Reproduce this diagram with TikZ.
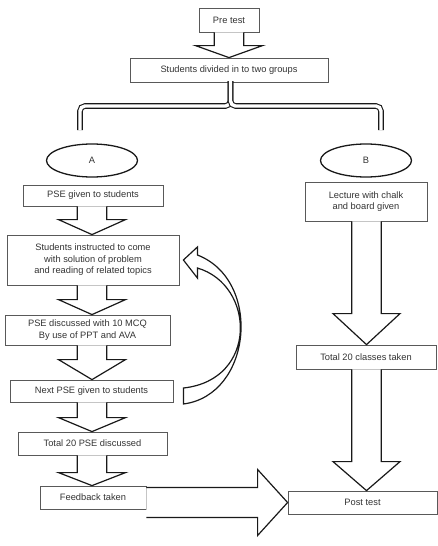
\documentclass[tikz,border=0pt]{standalone}
\usepackage{fontspec}
\setmainfont{Liberation Sans}
\usetikzlibrary{calc,shapes.geometric}

% block arrow down: column, from, to, head length
\newcommand{\blockdown}[4]{%
  \draw[blockarrow] ($(#2.south -| #1)+(-14.75,0)$)
    -- ($(#3.north -| #1)+(-14.75,#4)$) -- ($(#3.north -| #1)+(-33.5,#4)$)
    -- (#3.north -| #1)
    -- ($(#3.north -| #1)+(33.5,#4)$) -- ($(#3.north -| #1)+(14.75,#4)$)
    -- ($(#2.south -| #1)+(14.75,0)$);}

\begin{document}
\begin{tikzpicture}[
  x=1pt, y=1pt,
  font=\fontsize{9.3}{11.5}\selectfont,
  box/.style={draw=black!65, line width=0.8pt, text=black!80, align=center,
    inner sep=0pt},
  oval/.style={draw=black!90, ellipse, line width=1.3pt, text=black!80,
    minimum width=91, minimum height=33, inner sep=0pt},
  blockarrow/.style={draw=black!90, fill=white, line width=1.2pt,
    line join=miter},
  brace/.style={double, double distance=3.4pt, line width=1.1pt,
    draw=black!90, rounded corners=5pt}
]
\useasboundingbox (0,0) rectangle (438,-546);

\coordinate (colM) at (229,0);
\coordinate (colA) at (92,0);
\coordinate (colB) at (366.5,0);

% top
\node[box, minimum width=60, minimum height=24] (pre) at (229,-20) {Pre test};
\node[box, minimum width=198, minimum height=24] (split) at (229,-70)
  {Students divided in to two groups};
\blockdown{colM}{pre}{split}{12}

% the two groups
\node[oval] (A) at (92,-160.5) {A};
\node[oval] (B) at (366,-160.5) {B};

\coordinate (stem) at (230.5,-81);
\coordinate (mid) at (230.5,-106);
\coordinate (legA) at (80,-130);
\coordinate (legB) at (381,-130);
\draw[brace] (stem) -- (mid) -- (mid -| legA) -- (legA);
\draw[brace] (stem) -- (mid) -- (mid -| legB) -- (legB);

% group A
\node[box, minimum width=140, minimum height=21] (pse1) at (93,-195.5)
  {PSE given to students};
\node[box, minimum width=172, minimum height=50] (instr) at (93,-260)
  {Students instructed to come\\with solution of problem\\and reading of related topics};
\node[box, minimum width=165, minimum height=30] (disc) at (87.5,-330)
  {PSE discussed with 10 MCQ\\By use of PPT and AVA};
\node[box, minimum width=163, minimum height=22] (next) at (91.5,-391)
  {Next PSE given to students};
\node[box, minimum width=149, minimum height=23] (total) at (92.5,-443.5)
  {Total 20 PSE discussed};
\node[box, minimum width=106, minimum height=23] (feed) at (93,-497.5)
  {Feedback taken};

\blockdown{colA}{pse1}{instr}{15}
\blockdown{colA}{instr}{disc}{15}
\blockdown{colA}{disc}{next}{20}
\blockdown{colA}{next}{total}{14}
\blockdown{colA}{total}{feed}{13}

% loop back
\draw[blockarrow] ($(next.east)+(10,3)$) -- ++(0,-16)
  .. controls +(69,9) and +(65,-25) .. ($(instr.east)+(18,5)$)
  -- ++(0,8) -- ($(instr.east)+(4,0)$) -- ++(14,-18) -- ++(0,10)
  .. controls +(58,-17) and +(75,8) .. ($(next.east)+(10,3)$) -- cycle;

% group B
\node[box, minimum width=122, minimum height=39] (lect) at (366,-201.5)
  {Lecture with chalk\\and board given};
\node[box, minimum width=140, minimum height=24] (classes) at (366,-357)
  {Total 20 classes taken};
\node[box, minimum width=149, minimum height=23] (post) at (362.5,-502.5)
  {Post test};

\blockdown{colB}{lect}{classes}{31}
\blockdown{colB}{classes}{post}{29}

% feedback to post test
\draw[blockarrow] ($(feed.east |- post.west)+(0,15)$)
  -- ($(post.west)+(-30,15)$) -- ($(post.west)+(-30,33)$)
  -- (post.west)
  -- ($(post.west)+(-30,-33)$) -- ($(post.west)+(-30,-15)$)
  -- ($(feed.east |- post.west)+(0,-15)$);
\end{tikzpicture}
\end{document}
